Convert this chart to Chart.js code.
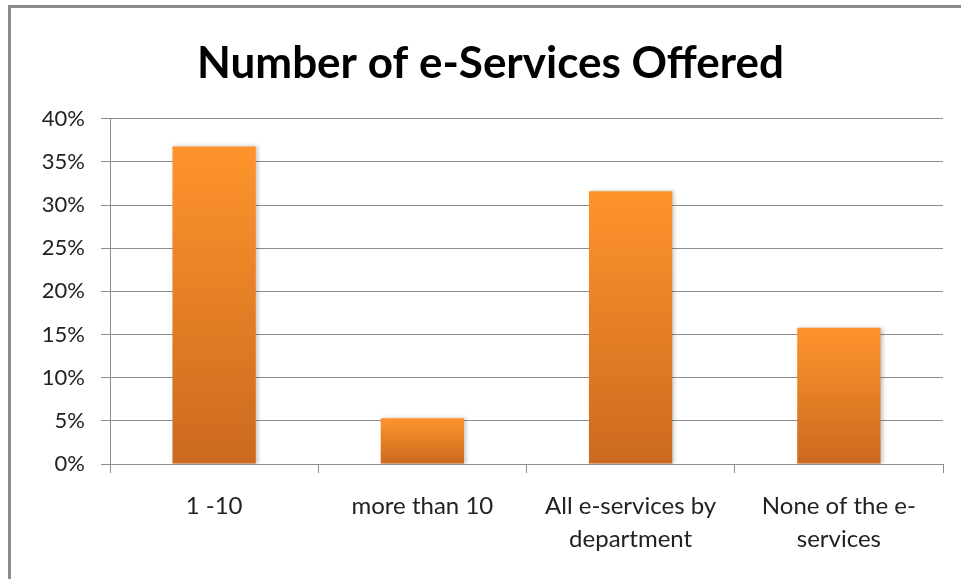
<!DOCTYPE html>
<html>
<head>
<meta charset="utf-8">
<script src="https://cdn.jsdelivr.net/npm/chart.js@4.4.1/dist/chart.umd.min.js"></script>
<style>
    html, body { margin: 0; padding: 0; background: #fff; }
    #frame {
        position: absolute;
        left: 8px;
        top: 5px;
        width: 953px;
        height: 574px;
        border-left: 3px solid #8c8c8c;
        border-top: 3px solid #8c8c8c;
        box-sizing: border-box;
    }
    #wrap { position: absolute; left: 0; top: 0; width: 961px; height: 579px; }
</style>
</head>
<body>
<div id="frame"></div>
<div id="wrap"><canvas id="barChart" width="961" height="579"></canvas></div>
<script>
const categories = ['1 -10', 'more than 10', ['All e-services by', 'department'], ['None of the e-', 'services']];
const shares = [36.8, 5.3, 31.6, 15.8];
const yTicks = [0, 5, 10, 15, 20, 25, 30, 35, 40];

const labelFont = 'Lato, "Liberation Sans", sans-serif';

// orange gradient that runs over each bar's own height
function barGradient(context) {
    const chart = context.chart;
    const y = chart.scales.y;
    if (!chart.chartArea || !y || context.parsed === undefined) {
        return '#f0862a';
    }
    const top = y.getPixelForValue(context.parsed.y);
    const base = y.getPixelForValue(0);
    const g = chart.ctx.createLinearGradient(0, top, 0, base);
    g.addColorStop(0, '#ff942c');
    g.addColorStop(1, '#cb691f');
    return g;
}

// soft shadow behind the bars
const barShadow = {
    id: 'barShadow',
    beforeDatasetsDraw(chart) {
        const ctx = chart.ctx;
        ctx.save();
        ctx.shadowColor = 'rgba(0, 0, 0, 0.22)';
        ctx.shadowBlur = 4;
        ctx.shadowOffsetX = 2;
        ctx.shadowOffsetY = 0;
    },
    afterDatasetsDraw(chart) {
        chart.ctx.restore();
    }
};

document.addEventListener('DOMContentLoaded', function() {
    const ctx = document.getElementById('barChart').getContext('2d');

    new Chart(ctx, {
        type: 'bar',
        data: {
            labels: categories,
            datasets: [{
                data: shares,
                backgroundColor: barGradient,
                borderWidth: 0,
                barPercentage: 0.4,
                categoryPercentage: 1.0
            }]
        },
        options: {
            responsive: false,
            animation: false,
            layout: {
                // left padding shifts the centred title; y axis fills the rest up to x=110
                padding: { left: 38, right: 18, top: 0, bottom: 0 }
            },
            plugins: {
                legend: { display: false },
                tooltip: { enabled: false },
                title: {
                    display: true,
                    text: 'Number of e-Services Offered',
                    color: '#000',
                    font: { family: labelFont, size: 44, weight: 'bold' },
                    padding: { top: 37, bottom: 29 }
                }
            },
            scales: {
                x: {
                    grid: {
                        drawOnChartArea: false,
                        drawTicks: true,
                        tickLength: 9,
                        color: '#8c8c8c'
                    },
                    border: { display: true, color: '#8c8c8c' },
                    ticks: {
                        color: '#222',
                        font: { family: labelFont, size: 24, lineHeight: 1.4 },
                        padding: 16,
                        maxRotation: 0,
                        autoSkip: false
                    },
                    afterFit(scale) {
                        scale.height = 115;
                    }
                },
                y: {
                    min: 0,
                    max: 40,
                    afterBuildTicks(scale) {
                        scale.ticks = yTicks.map(v => ({ value: v }));
                    },
                    grid: {
                        color: '#8c8c8c',
                        tickLength: 9
                    },
                    border: { display: true, color: '#8c8c8c' },
                    ticks: {
                        color: '#222',
                        font: { family: labelFont, size: 22 },
                        padding: 16,
                        callback: v => v + '%'
                    },
                    afterFit(scale) {
                        scale.width = 72;
                    }
                }
            }
        },
        plugins: [barShadow]
    });
});
</script>
</body>
</html>
